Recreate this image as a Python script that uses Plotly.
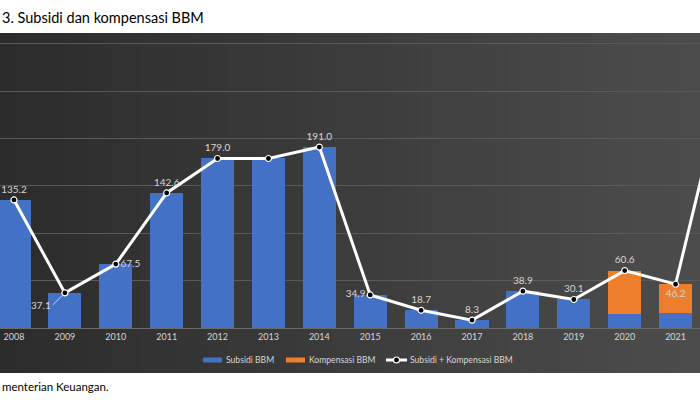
import plotly.graph_objects as go

years = [str(y) for y in range(2008, 2023)]
subsidi = [135.2, 37.1, 67.5, 142.6, 179.0, 179.0, 191.0, 34.9, 18.7, 8.3, 38.9, 30.1, 14.6, 16.2, None]
kompensasi = [0, 0, 0, 0, 0, 0, 0, 0, 0, 0, 0, 0, 46.0, 30.0, None]
total = [135.2, 37.1, 67.5, 142.6, 179.0, 179.0, 191.0, 34.9, 18.7, 8.3, 38.9, 30.1, 60.6, 46.2, 268.0]
labels = ["135.2", "", "67.5", "142.6", "179.0", "", "191.0", "34.9", "18.7", "8.3",
          "38.9", "30.1", "60.6", "46.2", ""]
label_pos = ["top center", "top center", "middle right", "top center", "top center", "top center",
             "top center", "middle left", "top center", "top center", "top center", "top center",
             "top center", "bottom center", "top center"]
legend_names = ["Subsidi BBM", "Kompensasi BBM", "Subsidi + Kompensasi BBM"]
title_text = "3. Subsidi dan kompensasi BBM"
source_text = "menterian Keuangan."

BLUE = "#4371c6"
ORANGE = "#ee7d2c"
FONT = "Lato"
LBL = "#d6d6d6"

W, H = 700, 400
T, B = 33, 328  # plot area top / baseline in px


def px(x):
    return x / W


def py(y):
    return (B - y) / (B - T)


fig = go.Figure()

# background gradient (panel)
n = 40
c0 = (0x2c, 0x2c, 0x2c)
c1 = (0x4c, 0x4c, 0x4c)
shapes = []
for i in range(n):
    t = i / (n - 1)
    c = tuple(int(round(c0[k] + (c1[k] - c0[k]) * t)) for k in range(3))
    shapes.append(dict(type="rect", xref="paper", yref="paper",
                       x0=i / n, x1=(i + 1) / n + 0.002,
                       y0=py(373), y1=1.0,
                       fillcolor="rgb(%d,%d,%d)" % c, line=dict(width=0), layer="below"))

fig.add_trace(go.Bar(x=years, y=subsidi, name=legend_names[0], marker=dict(color=BLUE, line=dict(width=0)),
                     showlegend=False))
fig.add_trace(go.Bar(x=years, y=kompensasi, name=legend_names[1], marker=dict(color=ORANGE, line=dict(width=0)),
                     showlegend=False))

fig.add_trace(go.Scatter(x=years, y=total, name=legend_names[2],
                         mode="lines+markers+text", text=labels, textposition=label_pos,
                         textfont=dict(color=LBL, size=10, family=FONT),
                         line=dict(color="white", width=3),
                         marker=dict(color="black", size=6, line=dict(color="white", width=1.2)),
                         cliponaxis=False, showlegend=False))

annotations = [
    dict(x=1, y=total[1], xref="x", yref="y", text="37.1", showarrow=True, ax=-12, ay=12,
         arrowhead=0, arrowwidth=1, arrowcolor="#cfcfcf", standoff=3,
         font=dict(color=LBL, size=10, family=FONT), xanchor="right"),
    dict(x=0, y=py(18), xref="paper", yref="paper", xanchor="left", yanchor="middle",
         text=title_text, showarrow=False,
         font=dict(color="black", size=14.5, family=FONT)),
    dict(x=0, y=py(386), xref="paper", yref="paper", xanchor="left", yanchor="middle",
         text=source_text, showarrow=False,
         font=dict(color="black", size=11.5, family=FONT)),
]

# manual legend
LY = 360
sw = [(203, 222, BLUE), (286, 305, ORANGE)]
for i, (a, b, col) in enumerate(sw):
    shapes.append(dict(type="rect", xref="paper", yref="paper", x0=px(a), x1=px(b),
                       y0=py(LY + 2.5), y1=py(LY - 2.5), fillcolor=col, line=dict(width=0)))
    annotations.append(dict(x=px(b + 2), y=py(LY), xref="paper", yref="paper", xanchor="left",
                            yanchor="middle", text=legend_names[i], showarrow=False,
                            font=dict(color=LBL, size=8.6, family=FONT)))
shapes.append(dict(type="line", xref="paper", yref="paper", x0=px(386), x1=px(407),
                   y0=py(LY), y1=py(LY), line=dict(color="white", width=3)))
shapes.append(dict(type="circle", xref="paper", yref="paper", x0=px(393.5), x1=px(399.5),
                   y0=py(LY + 3), y1=py(LY - 3), fillcolor="black", line=dict(color="white", width=1.2)))
annotations.append(dict(x=px(408), y=py(LY), xref="paper", yref="paper", xanchor="left",
                        yanchor="middle", text=legend_names[2], showarrow=False,
                        font=dict(color=LBL, size=8.6, family=FONT)))

fig.update_layout(
    width=W, height=H,
    margin=dict(l=0, r=0, t=T, b=H - B),
    paper_bgcolor="white", plot_bgcolor="rgba(0,0,0,0)",
    barmode="stack", bargap=0.35,
    shapes=shapes, annotations=annotations,
    font=dict(family=FONT, color=LBL),
    showlegend=False,
    xaxis=dict(type="category", categoryorder="array", categoryarray=years,
               range=[-0.275, 13.48], showgrid=False, zeroline=False,
               showline=True, linecolor="#6a6a6a", linewidth=1, ticks="",
               tickfont=dict(color=LBL, size=9, family=FONT)),
    yaxis=dict(range=[0, 311.5], dtick=50, showticklabels=False, showgrid=True,
               gridcolor="#5a5a5a", gridwidth=1, zeroline=False, showline=False),
)

fig.write_html("out.html")
